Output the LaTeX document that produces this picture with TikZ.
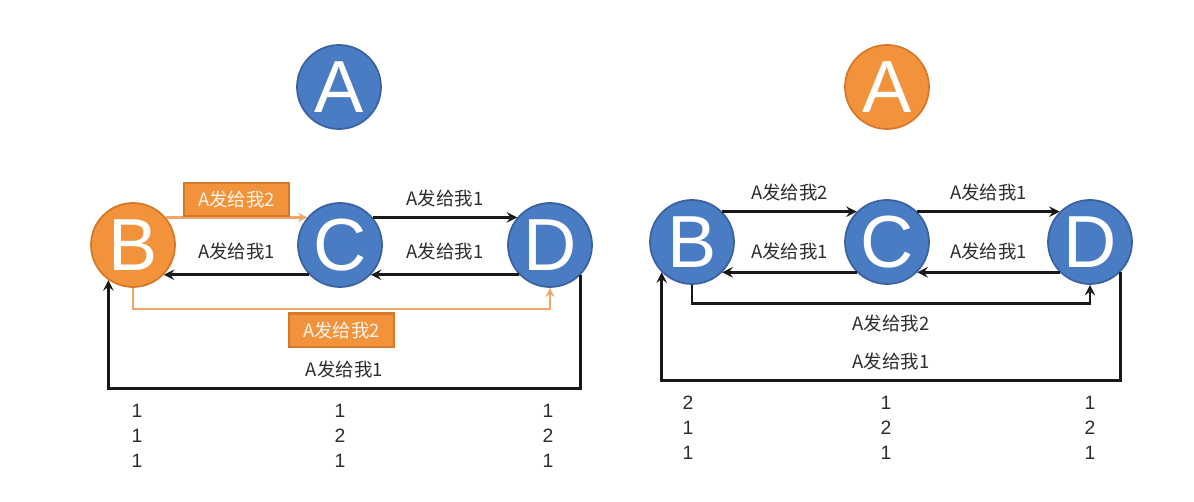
\documentclass[tikz,border=0pt]{standalone}
\usepackage{fontspec}
\setmainfont{Liberation Sans}
\newfontfamily\cjk{Noto Sans CJK SC}
\usepackage{xcolor}
\usepackage{tikz}
\definecolor{Blau}{RGB}{74,124,196}
\definecolor{BlauRand}{RGB}{58,98,160}
\definecolor{Orange}{RGB}{242,146,58}
\definecolor{OrangeRand}{RGB}{214,120,42}
\definecolor{OrangeLinie}{RGB}{240,165,105}
\definecolor{Schrift}{RGB}{45,45,45}
\newcommand{\Nachricht}[1]{{\cjk A发给我#1}}
\tikzset{
  Kreis/.style={circle,minimum size=1.68cm,inner sep=0pt,line width=1pt,
    text=white,font=\fontsize{42}{42}\selectfont}, % Knoten
  BKreis/.style={Kreis,fill=Blau,draw=BlauRand},
  OKreis/.style={Kreis,fill=Orange,draw=OrangeRand},
  Pfeil/.style={line width=1.6pt,->,draw=black!90}, % schwarze Pfeile
  OPfeil/.style={line width=1.3pt,->,draw=OrangeLinie}, % orange Pfeile
  OBox/.style={fill=Orange,draw=OrangeRand,text=white!92!orange,
    minimum width=1.08cm,minimum height=19pt,inner xsep=8pt},
  Zahl/.style={align=center,text=Schrift,font=\fontsize{11}{14.2}\selectfont}
}

\begin{document}
\begin{tikzpicture}[x=0.02cm,y=-0.02cm,
font=\fontsize{10.5}{12}\selectfont,text=Schrift,
>=stealth % Pfeilspitzen
]
\useasboundingbox (0,0) rectangle (1194,502);

%Knoten links
\node[BKreis] (A1) at (339,87) {A};
\node[OKreis] (B1) at (133,245) {B};
\node[BKreis] (C1) at (340,245) {C};
\node[BKreis] (D1) at (550,245) {D};

%Knoten rechts
\node[OKreis] (A2) at (887,87) {A};
\node[BKreis] (B2) at (692,242) {B};
\node[BKreis] (C2) at (887,242) {C};
\node[BKreis] (D2) at (1090,242) {D};

%Pfeile links
\draw[OPfeil] (B1.40) -- node[OBox,above=0pt] {\Nachricht{2}} (C1.140);
\draw[Pfeil] (C1.40) -- node[above=2pt] {\Nachricht{1}} (D1.140);
\draw[Pfeil] (C1.-136) -- node[above=4pt] {\Nachricht{1}} (B1.-44);
\draw[Pfeil] (D1.-136) -- node[above=4pt] {\Nachricht{1}} (C1.-44);
\draw[OPfeil] (B1.south) -- ++(0,21) -| node[OBox,below=2pt,pos=0.25] {\Nachricht{2}} (D1.south);
\draw[Pfeil] (D1.-45) -- ++(0,113) -| node[above=2pt,pos=0.25] {\Nachricht{1}} (B1.-125);

%Pfeile rechts
\draw[Pfeil] (B2.45) -- node[above=2pt] {\Nachricht{2}} (C2.135);
\draw[Pfeil] (C2.45) -- node[above=2pt] {\Nachricht{1}} (D2.135);
\draw[Pfeil] (C2.-135) -- node[above=3pt] {\Nachricht{1}} (B2.-45);
\draw[Pfeil] (D2.-135) -- node[above=3pt] {\Nachricht{1}} (C2.-45);
\draw[Pfeil] (B2.south) -- ++(0,19) -| node[below=2pt,pos=0.25] {\Nachricht{2}} (D2.south);
\draw[Pfeil] (D2.-45) -- ++(0,108) -| node[above=2pt,pos=0.25] {\Nachricht{1}} (B2.-135);

%Zahlen
\node[Zahl] (nB1) at (137,436) {1\\1\\1};
\node[Zahl] (nC1) at (340,436) {1\\2\\1};
\node[Zahl] (nD1) at (548,436) {1\\2\\1};
\node[Zahl] (nB2) at (688,428) {2\\1\\1};
\node[Zahl] (nC2) at (886,428) {1\\2\\1};
\node[Zahl] (nD2) at (1090,428) {1\\2\\1};

\end{tikzpicture}
\end{document}
